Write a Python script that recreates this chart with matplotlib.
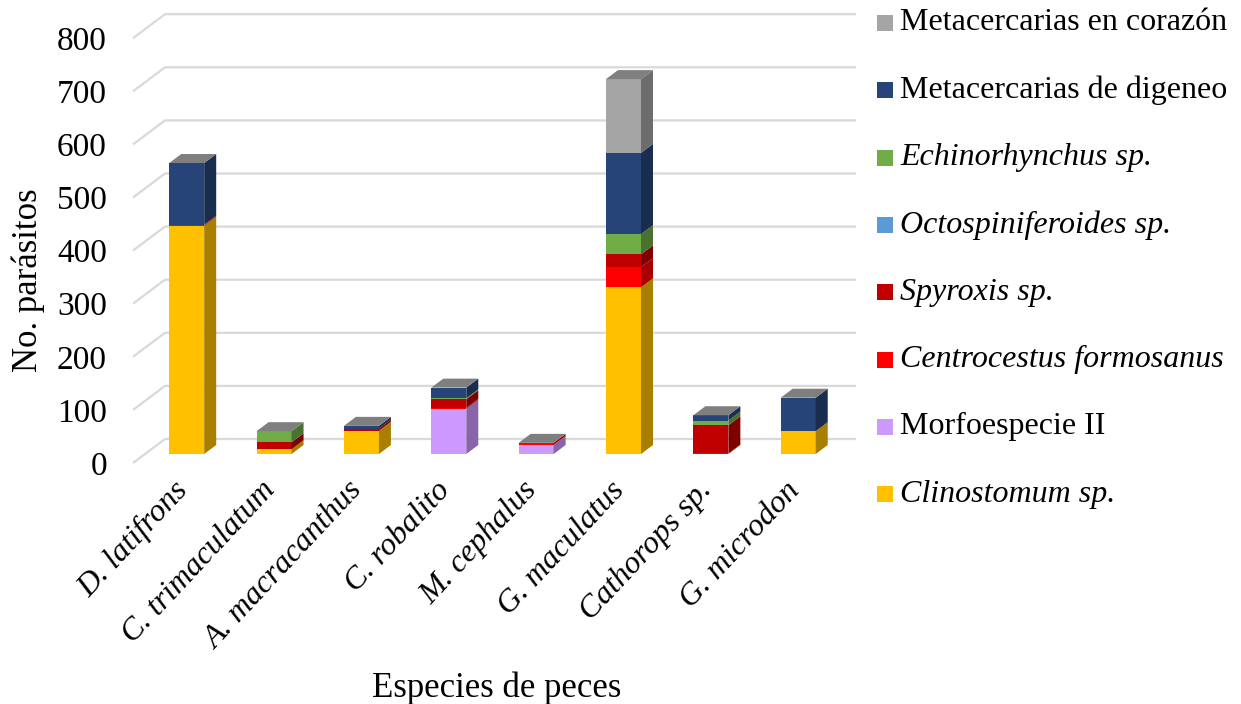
import matplotlib.pyplot as plt
from matplotlib.patches import Polygon, Rectangle
from matplotlib.colors import to_rgb

plt.rcParams['font.family'] = ['Liberation Serif', 'DejaVu Serif']

especies = ["D. latifrons", "C. trimaculatum", "A. macracanthus", "C. robalito",
            "M. cephalus", "G. maculatus", "Cathorops sp.", "G. microdon"]

# parasite counts per fish species (stack order, bottom to top)
clinostomum = [430, 9, 43, 0, 0, 314, 0, 43]
morfoespecie = [0, 0, 0, 85, 17, 0, 0, 0]
centrocestus = [2, 0, 1, 2, 4, 38, 1, 0]
spyroxis = [0, 13, 4, 16, 0, 24, 53, 0]
octospiniferoides = [0, 0, 0, 0, 0, 0, 0, 0]
echinorhynchus = [0, 21, 0, 2, 0, 38, 9, 0]
meta_digeneo = [116, 0, 5, 20, 0, 153, 10, 63]
meta_corazon = [0, 0, 0, 0, 0, 139, 0, 0]

series = [
    ("Clinostomum sp.", clinostomum, "#FFC000", True),
    ("Morfoespecie II", morfoespecie, "#CC99FF", False),
    ("Centrocestus formosanus", centrocestus, "#FF0000", True),
    ("Spyroxis sp.", spyroxis, "#C00000", True),
    ("Octospiniferoides sp.", octospiniferoides, "#5B9BD5", True),
    ("Echinorhynchus sp.", echinorhynchus, "#70AD47", True),
    ("Metacercarias de digeneo", meta_digeneo, "#264478", False),
    ("Metacercarias en corazón", meta_corazon, "#A5A5A5", False),
]
ticks = list(range(0, 801, 100))


def shade(c, f):
    r, g, b = to_rgb(c)
    return (r * f, g * f, b * f)


W, H = 1241, 704
fig = plt.figure(figsize=(W / 100, H / 100), dpi=100)
ax = fig.add_axes([0, 0, 1, 1])

# pixel scale of the pseudo-3D view
PX_X, PX_Y = 87.36, 0.531   # px per category, px per parasite
X0, Y0 = 186.7, 454.0       # pixel of first category centre / zero level
ax.set_xlim(-X0 / PX_X, (W - X0) / PX_X)
ax.set_ylim(-(H - Y0) / PX_Y, Y0 / PX_Y)
ax.axis('off')


def xd(p):
    return (p - X0) / PX_X


def dx(p):
    return p / PX_X


def dy(p):
    return p / PX_Y


# gridlines on the floor edge and back wall
for v in ticks:
    ax.plot([xd(133), xd(165), xd(856)], [v - dy(9), v + dy(15), v + dy(15)],
            color="#D9D9D9", lw=1.6, solid_capstyle='butt', zorder=1)
    ax.text(xd(107), v - dy(9), str(v), ha='right', va='center_baseline',
            fontsize=24)

# stacked 3D columns
bw = dx(35)
sx, sy = dx(12), dy(9)
for i in range(len(especies)):
    left, right = i - bw / 2, i + bw / 2
    base = 0
    for name, vals, col, _ in series:
        h = vals[i]
        if h <= 0:
            continue
        ax.add_patch(Rectangle((left, base), bw, h, facecolor=col,
                               edgecolor='none', zorder=3))
        ax.add_patch(Polygon([(right, base), (right, base + h),
                              (right + sx, base + h + sy), (right + sx, base + sy)],
                             closed=True, facecolor=shade(col, 0.66),
                             edgecolor='none', zorder=3))
        base += h
    top_col = shade(series[-1][2], 0.77)
    ax.add_patch(Polygon([(left, base), (right, base), (right + sx, base + sy),
                          (left + sx, base + sy)], closed=True,
                         facecolor=top_col, edgecolor='none', zorder=3))
    ax.text(i - dx(14), -dy(22), especies[i], rotation=47, rotation_mode='anchor',
            ha='right', va='top', fontsize=23, style='italic')

ax.text(xd(28), -dy(280 - Y0), "No. parásitos", rotation=90, ha='center',
        va='center', fontsize=25)
ax.text(xd(497), -dy(688 - Y0), "Especies de peces", ha='center', va='center',
        fontsize=25)

# legend, top entry is the top of the stack
for k, (name, vals, col, ital) in enumerate(series[::-1]):
    yc = 23 + 67.3 * k
    fig.patches.append(Rectangle((877 / W, 1 - (yc + 8) / H), 16 / W, 16 / H,
                                 transform=fig.transFigure, facecolor=col,
                                 edgecolor='none'))
    fig.text(900 / W, 1 - yc / H, name, ha='left', va='center', fontsize=23,
             style='italic' if ital else 'normal')

fig.savefig('out.png', dpi=100)
